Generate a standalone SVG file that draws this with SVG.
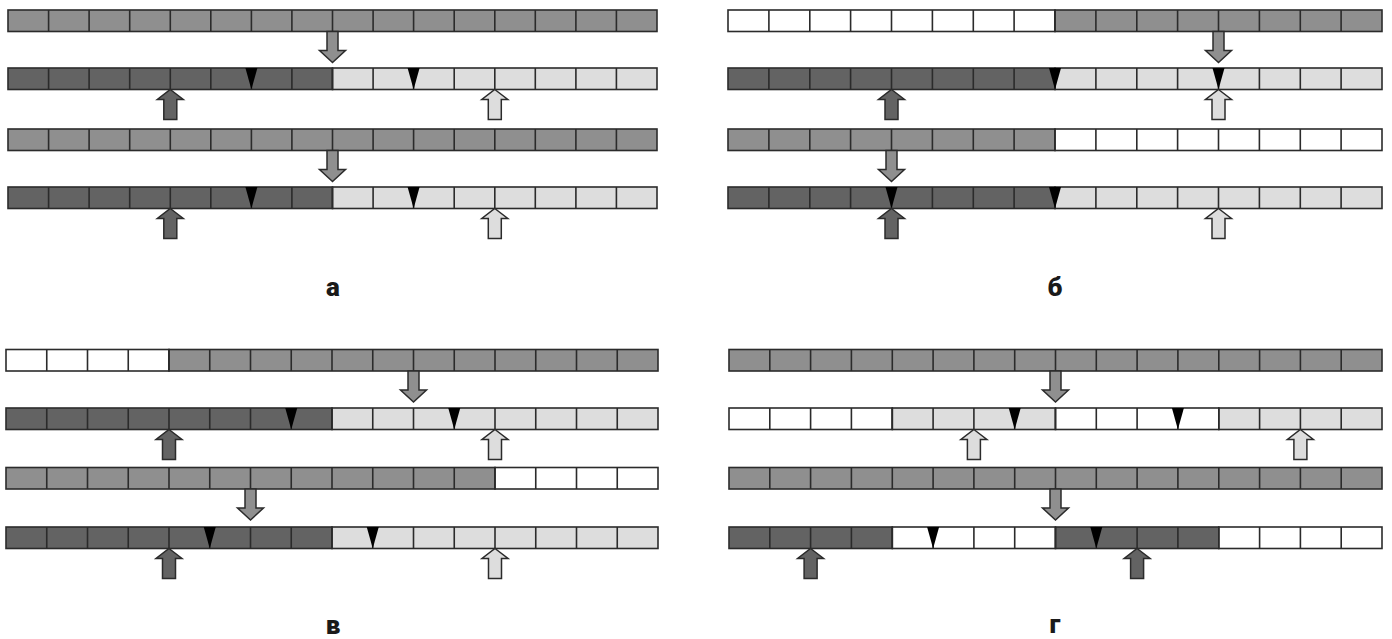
<svg xmlns="http://www.w3.org/2000/svg" xmlns:xlink="http://www.w3.org/1999/xlink" width="1392" height="639" viewBox="0 0 1392 639">
<style>
.c{stroke:#2b2b2b;stroke-width:1.6}
.m{fill:#8f8f8f}.d{fill:#636363}.l{fill:#dddddd}.w{fill:#ffffff}
.g{fill:none;stroke:#2b2b2b;stroke-width:1.6}
.t{fill:#000}
.a{stroke:#2b2b2b;stroke-width:1.5;stroke-linejoin:miter}
.lbl{font-family:Roboto,"Noto Sans","DejaVu Sans",sans-serif;font-weight:900;font-size:26px;fill:#1a1a1a;text-anchor:middle}
</style>
<defs>
<path id="gA" d="M48.6 0v21.5M89.1 0v21.5M129.7 0v21.5M170.3 0v21.5M210.8 0v21.5M251.4 0v21.5M291.9 0v21.5M332.5 0v21.5M373.1 0v21.5M413.6 0v21.5M454.2 0v21.5M494.8 0v21.5M535.3 0v21.5M575.9 0v21.5M616.4 0v21.5"/>
<path id="gB" d="M768.9 0v21.5M809.8 0v21.5M850.6 0v21.5M891.5 0v21.5M932.4 0v21.5M973.3 0v21.5M1014.1 0v21.5M1055 0v21.5M1095.9 0v21.5M1136.8 0v21.5M1177.6 0v21.5M1218.5 0v21.5M1259.4 0v21.5M1300.3 0v21.5M1341.1 0v21.5"/>
<path id="gC" d="M46.75 0v21.5M87.5 0v21.5M128.25 0v21.5M169 0v21.5M209.75 0v21.5M250.5 0v21.5M291.25 0v21.5M332 0v21.5M372.75 0v21.5M413.5 0v21.5M454.25 0v21.5M495 0v21.5M535.75 0v21.5M576.5 0v21.5M617.25 0v21.5"/>
<path id="gD" d="M769.8 0v21.5M810.6 0v21.5M851.4 0v21.5M892.3 0v21.5M933.1 0v21.5M973.9 0v21.5M1014.7 0v21.5M1055.5 0v21.5M1096.3 0v21.5M1137.1 0v21.5M1177.9 0v21.5M1218.8 0v21.5M1259.6 0v21.5M1300.4 0v21.5M1341.2 0v21.5"/>
<path id="tri" d="M-6 0H6L0 21.5Z"/>
<path id="dn" d="M-5.5 0V19H-13L0 31L13 19H5.5V0Z"/>
<path id="up" d="M0 0L13 10H6.5V30H-6.5V10H-13Z"/>
</defs>
<rect width="1392" height="639" fill="#fff"/>

<g id="panel-a">
<g id="a-row1"><rect class="c m" x="8" y="10" width="649" height="21.5"/><use href="#gA" class="g" y="10"/></g>
<g id="a-row2"><rect class="c d" x="8" y="68" width="324.5" height="21.5"/><rect class="c l" x="332.5" y="68" width="324.5" height="21.5"/><use href="#gA" class="g" y="68"/>
<use href="#tri" class="t" x="251.4" y="68"/><use href="#tri" class="t" x="413.6" y="68"/></g>
<g id="a-row3"><rect class="c m" x="8" y="129" width="649" height="21.5"/><use href="#gA" class="g" y="129"/></g>
<g id="a-row4"><rect class="c d" x="8" y="187" width="324.5" height="21.5"/><rect class="c l" x="332.5" y="187" width="324.5" height="21.5"/><use href="#gA" class="g" y="187"/>
<use href="#tri" class="t" x="251.4" y="187"/><use href="#tri" class="t" x="413.6" y="187"/></g>
<text class="lbl" x="333" y="296">а</text>
</g>

<g id="panel-b">
<g id="b-row1"><rect class="c w" x="728" y="10" width="327" height="21.5"/><rect class="c m" x="1055" y="10" width="327" height="21.5"/><use href="#gB" class="g" y="10"/></g>
<g id="b-row2"><rect class="c d" x="728" y="68" width="327" height="21.5"/><rect class="c l" x="1055" y="68" width="327" height="21.5"/><use href="#gB" class="g" y="68"/>
<use href="#tri" class="t" x="1055" y="68"/><use href="#tri" class="t" x="1218.5" y="68"/></g>
<g id="b-row3"><rect class="c m" x="728" y="129" width="327" height="21.5"/><rect class="c w" x="1055" y="129" width="327" height="21.5"/><use href="#gB" class="g" y="129"/></g>
<g id="b-row4"><rect class="c d" x="728" y="187" width="327" height="21.5"/><rect class="c l" x="1055" y="187" width="327" height="21.5"/><use href="#gB" class="g" y="187"/>
<use href="#tri" class="t" x="891.5" y="187"/><use href="#tri" class="t" x="1055" y="187"/></g>
<text class="lbl" x="1055" y="296">б</text>
</g>

<g id="panel-c">
<g id="c-row1"><rect class="c w" x="6" y="349.5" width="163" height="21.5"/><rect class="c m" x="169" y="349.5" width="489" height="21.5"/><use href="#gC" class="g" y="349.5"/></g>
<g id="c-row2"><rect class="c d" x="6" y="408" width="326" height="21.5"/><rect class="c l" x="332" y="408" width="326" height="21.5"/><use href="#gC" class="g" y="408"/>
<use href="#tri" class="t" x="291.25" y="408"/><use href="#tri" class="t" x="454.25" y="408"/></g>
<g id="c-row3"><rect class="c m" x="6" y="467.5" width="489" height="21.5"/><rect class="c w" x="495" y="467.5" width="163" height="21.5"/><use href="#gC" class="g" y="467.5"/></g>
<g id="c-row4"><rect class="c d" x="6" y="527" width="326" height="21.5"/><rect class="c l" x="332" y="527" width="326" height="21.5"/><use href="#gC" class="g" y="527"/>
<use href="#tri" class="t" x="209.75" y="527"/><use href="#tri" class="t" x="372.75" y="527"/></g>
<text class="lbl" x="333" y="634">в</text>
</g>

<g id="panel-d">
<g id="d-row1"><rect class="c m" x="729" y="349.5" width="653" height="21.5"/><use href="#gD" class="g" y="349.5"/></g>
<g id="d-row2"><rect class="c w" x="729" y="408" width="163.3" height="21.5"/><rect class="c l" x="892.3" y="408" width="163.2" height="21.5"/><rect class="c w" x="1055.5" y="408" width="163.3" height="21.5"/><rect class="c l" x="1218.8" y="408" width="163.2" height="21.5"/><use href="#gD" class="g" y="408"/>
<use href="#tri" class="t" x="1014.7" y="408"/><use href="#tri" class="t" x="1177.9" y="408"/></g>
<g id="d-row3"><rect class="c m" x="729" y="467.5" width="653" height="21.5"/><use href="#gD" class="g" y="467.5"/></g>
<g id="d-row4"><rect class="c d" x="729" y="527" width="163.3" height="21.5"/><rect class="c w" x="892.3" y="527" width="163.2" height="21.5"/><rect class="c d" x="1055.5" y="527" width="163.3" height="21.5"/><rect class="c w" x="1218.8" y="527" width="163.2" height="21.5"/><use href="#gD" class="g" y="527"/>
<use href="#tri" class="t" x="933.1" y="527"/><use href="#tri" class="t" x="1096.3" y="527"/></g>
<text class="lbl" x="1055" y="633">г</text>
</g>

<g id="connectors">
<use href="#dn" class="a m" x="332.5" y="31.5"/>
<use href="#dn" class="a m" x="332.5" y="150.5"/>
<use href="#up" class="a d" x="170.3" y="89.5"/>
<use href="#up" class="a l" x="494.8" y="89.5"/>
<use href="#up" class="a d" x="170.3" y="208.5"/>
<use href="#up" class="a l" x="494.8" y="208.5"/>

<use href="#dn" class="a m" x="1218.5" y="31.5"/>
<use href="#dn" class="a m" x="891.5" y="150.5"/>
<use href="#up" class="a d" x="891.5" y="89.5"/>
<use href="#up" class="a l" x="1218.5" y="89.5"/>
<use href="#up" class="a d" x="891.5" y="208.5"/>
<use href="#up" class="a l" x="1218.5" y="208.5"/>

<use href="#dn" class="a m" x="413.5" y="371"/>
<use href="#dn" class="a m" x="250.5" y="489"/>
<use href="#up" class="a d" x="169" y="429.5"/>
<use href="#up" class="a l" x="495" y="429.5"/>
<use href="#up" class="a d" x="169" y="548.5"/>
<use href="#up" class="a l" x="495" y="548.5"/>

<use href="#dn" class="a m" x="1055.5" y="371"/>
<use href="#dn" class="a m" x="1055.5" y="489"/>
<use href="#up" class="a l" x="973.9" y="429.5"/>
<use href="#up" class="a l" x="1300.4" y="429.5"/>
<use href="#up" class="a d" x="810.6" y="548.5"/>
<use href="#up" class="a d" x="1137.1" y="548.5"/>
</g>
</svg>
